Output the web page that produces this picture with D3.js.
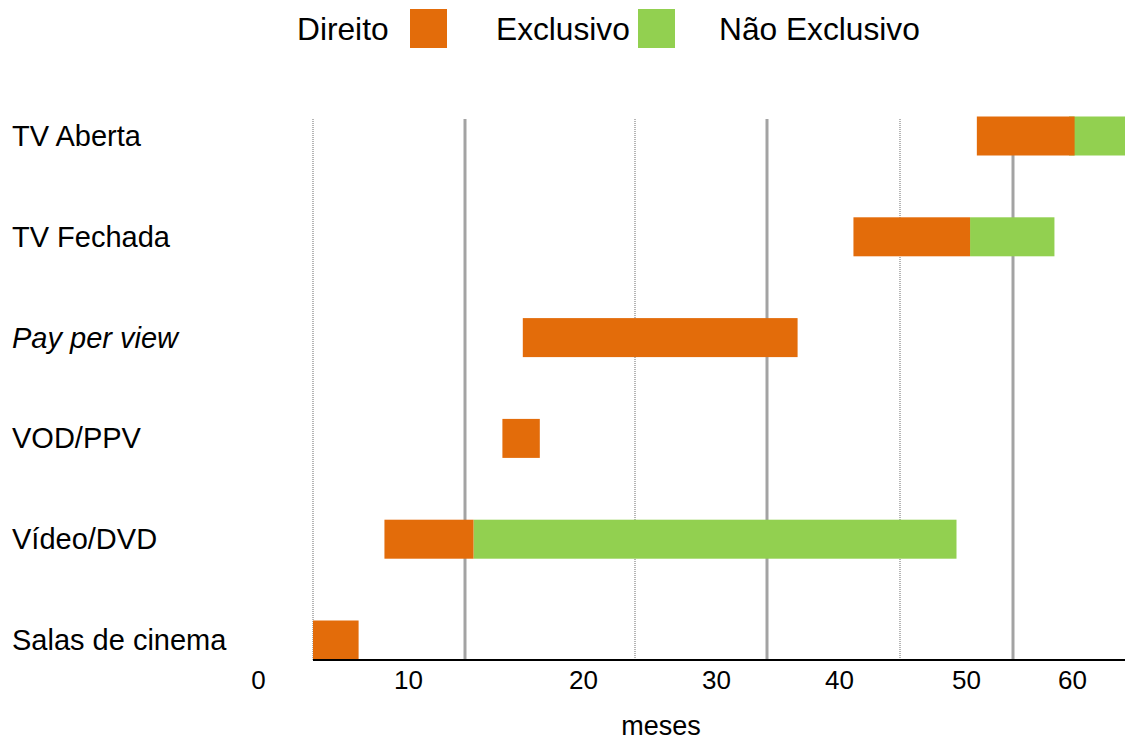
<!DOCTYPE html>
<html>
<head>
<meta charset="utf-8">
<script src="https://cdn.jsdelivr.net/npm/d3@7"></script>
<style>
  body { margin: 0; background: #fff; }
  svg { display: block; font-family: "Liberation Sans", Arial, sans-serif; }
</style>
</head>
<body>
<script>
// rows, top to bottom
const categories = ["TV Aberta", "TV Fechada", "Pay per view", "VOD/PPV", "Vídeo/DVD", "Salas de cinema"];
// months
const exclusiveStart = [46.8, 36.5, 13.4, 12.2, 4.7, 0];
const exclusiveEnd = [55.5, 46.2, 32.3, 14.4, 10.5, 3.0];
const nonExclusiveStart = [55.0, 46.2, null, null, 10.5, null];
const nonExclusiveEnd = [60.0, 53.7, null, null, 45.0, null];
const monthTicks = [0, 10, 20, 30, 40, 50, 60];
const gridMonths = [0, 10, 20, 30, 40, 50];
const legendLabels = ["Direito", "Exclusivo", "Não Exclusivo"];

const width = 1125, height = 741;
const orange = "#E36C0A", green = "#92D050";

const svg = d3.select("body").append("svg")
  .attr("width", width)
  .attr("height", height);

// the month axis of the original is not evenly spaced
const x = d3.scaleLinear()
  .domain(monthTicks)
  .range([313, 465, 635, 767, 900, 1013, 1125]);

// tick labels sit left of their gridlines in the original
const xLabel = d3.scaleLinear()
  .domain(monthTicks)
  .range([258, 408, 583, 716, 839, 966, 1072]);

const y = d3.scalePoint()
  .domain(categories)
  .range([136, 640]);

const barH = 39;
const axisY = 660;

// gridlines
svg.append("g")
  .selectAll("line")
  .data(gridMonths)
  .enter().append("line")
  .attr("x1", d => x(d))
  .attr("x2", d => x(d))
  .attr("y1", 119)
  .attr("y2", axisY)
  .attr("stroke", (d, i) => i % 2 ? "#a3a3a3" : "#b5b5b5")
  .attr("stroke-width", (d, i) => i % 2 ? 3 : 2)
  .attr("stroke-dasharray", (d, i) => i % 2 ? null : "1,1");

// bars
const rows = categories.map((c, i) => ({
  cat: c,
  e0: exclusiveStart[i], e1: exclusiveEnd[i],
  n0: nonExclusiveStart[i], n1: nonExclusiveEnd[i]
}));

svg.append("g")
  .selectAll("rect")
  .data(rows.filter(d => d.n0 != null))
  .enter().append("rect")
  .attr("x", d => x(d.n0))
  .attr("y", d => y(d.cat) - barH / 2)
  .attr("width", d => x(d.n1) - x(d.n0))
  .attr("height", barH)
  .attr("fill", green);

svg.append("g")
  .selectAll("rect")
  .data(rows)
  .enter().append("rect")
  .attr("x", d => x(d.e0))
  .attr("y", d => y(d.cat) - barH / 2)
  .attr("width", d => x(d.e1) - x(d.e0))
  .attr("height", barH)
  .attr("fill", orange);

// axis line
svg.append("line")
  .attr("x1", x.range()[0])
  .attr("x2", width)
  .attr("y1", axisY)
  .attr("y2", axisY)
  .attr("stroke", "#000")
  .attr("stroke-width", 2);

// tick labels
const xAxis = d3.axisBottom(xLabel)
  .tickValues(monthTicks)
  .tickSize(0)
  .tickPadding(0);

const gx = svg.append("g")
  .attr("transform", "translate(0," + (axisY + 29) + ")")
  .call(xAxis);
gx.select(".domain").remove();
gx.selectAll("text")
  .attr("dy", 0)
  .attr("fill", "#000")
  .style("font-size", "26px")
  .style("font-family", "'Liberation Sans', Arial, sans-serif");

svg.append("text")
  .attr("x", 661)
  .attr("y", 735)
  .attr("text-anchor", "middle")
  .style("font-size", "27px")
  .text("meses");

// category labels
svg.append("g")
  .selectAll("text")
  .data(categories)
  .enter().append("text")
  .attr("x", 12)
  .attr("y", d => y(d) + 10)
  .style("font-size", "29px")
  .style("font-style", d => d === "Pay per view" ? "italic" : "normal")
  .text(d => d);

// legend
const legend = svg.append("g");
const legendX = [297, 496, 719];
legend.selectAll("text")
  .data(legendLabels)
  .enter().append("text")
  .attr("x", (d, i) => legendX[i])
  .attr("y", 40)
  .style("font-size", "31.7px")
  .text(d => d);

legend.selectAll("rect")
  .data([orange, green])
  .enter().append("rect")
  .attr("x", (d, i) => i ? 638 : 410)
  .attr("y", 9)
  .attr("width", 37)
  .attr("height", 39)
  .attr("fill", d => d);
</script>
</body>
</html>
